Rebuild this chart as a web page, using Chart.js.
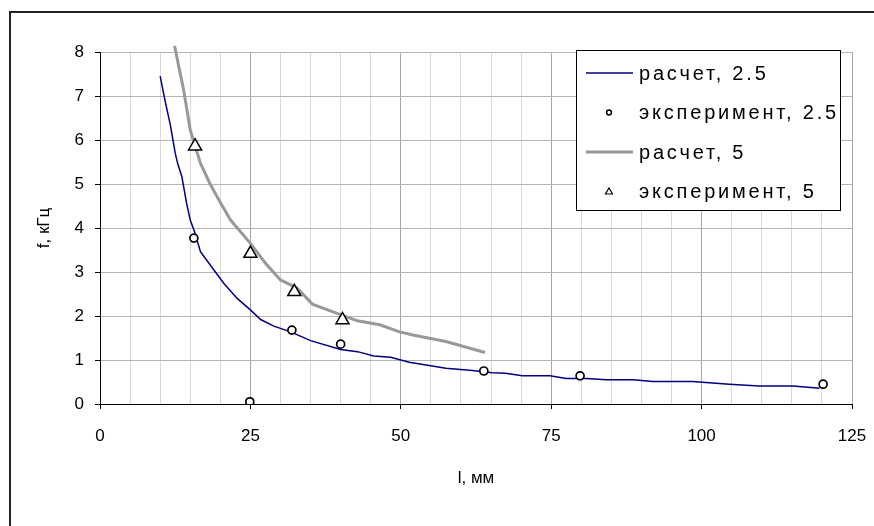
<!DOCTYPE html>
<html>
<head>
<meta charset="utf-8">
<script src="https://cdn.jsdelivr.net/npm/chart.js@4.4.0/dist/chart.umd.min.js"></script>
<style>
  html, body { margin: 0; padding: 0; background: #fff; }
  #wrap { width: 874px; height: 526px; }
</style>
</head>
<body>
<div id="wrap"><canvas id="chart" width="874" height="526"></canvas></div>
<script>
// l, mm / f, kHz
const calcL25 = [10, 10.8, 11.7, 12.5, 12.9, 13.6, 14.4, 15, 15.7, 16.7, 18.9, 20.6, 22.8, 25, 26.7, 28.9, 31.7, 35, 40, 42.8, 45.5, 48.3, 51.4, 57.5, 61.9, 65.2, 67.4, 70.2, 74.8, 77.5, 80.8, 84.1, 88.6, 91.9, 98.5, 104.6, 109.6, 115.2, 119.6];
const calcF25 = [7.45, 6.9, 6.34, 5.7, 5.47, 5.17, 4.56, 4.18, 3.92, 3.46, 3.05, 2.74, 2.4, 2.14, 1.92, 1.77, 1.64, 1.44, 1.24, 1.19, 1.09, 1.06, 0.95, 0.81, 0.76, 0.71, 0.7, 0.64, 0.64, 0.58, 0.58, 0.55, 0.55, 0.51, 0.51, 0.45, 0.41, 0.41, 0.36];
const expL25 = [15.6, 24.9, 31.9, 40, 63.8, 79.8, 120.2];
const expF25 = [3.77, 0.05, 1.68, 1.36, 0.75, 0.64, 0.45];

const calcL5 = [12.4, 13.2, 13.9, 15, 16.7, 18.3, 20, 21.7, 25, 27.5, 30, 32.8, 35.3, 39.4, 42.8, 46.5, 49.8, 52, 57.5, 64];
const calcF5 = [8.14, 7.6, 7.14, 6.23, 5.47, 5.0, 4.58, 4.18, 3.65, 3.2, 2.82, 2.63, 2.27, 2.06, 1.89, 1.8, 1.64, 1.57, 1.42, 1.17];
const expL5 = [15.8, 25, 32.3, 40.3];
const expF5 = [5.86, 3.42, 2.55, 1.91];

const seriesNames = ['расчет, 2.5', 'эксперимент, 2.5', 'расчет, 5', 'эксперимент, 5'];
const xTitle = 'l, мм';
const yTitle = 'f, кГц';

const FONT = '"Liberation Sans", Arial, sans-serif';

function toPoints(xs, ys) {
    return xs.map((x, i) => ({ x, y: ys[i] }));
}

// legend box drawn inside the plot, over the grid, like the original
const legendBox = {
    id: 'legendBox',
    afterDraw(chart) {
        const ctx = chart.ctx;
        ctx.save();

        // outer frame (only left/top are inside the picture)
        ctx.strokeStyle = '#222';
        ctx.lineWidth = 2;
        ctx.beginPath();
        ctx.moveTo(10, 526);
        ctx.lineTo(10, 12);
        ctx.lineTo(874, 12);
        ctx.stroke();

        const bx = 576, by = 50, bw = 264, bh = 160;
        ctx.fillStyle = '#fff';
        ctx.fillRect(bx, by, bw, bh);

        ctx.font = '20px ' + FONT;
        ctx.letterSpacing = '2.8px';
        ctx.textBaseline = 'middle';
        ctx.fillStyle = '#000';

        chart.data.datasets.forEach((ds, i) => {
            const y = 73 + i * 39.5;
            if (ds.showLine !== false) {
                ctx.strokeStyle = ds.borderColor;
                ctx.lineWidth = ds.borderWidth;
                ctx.beginPath();
                ctx.moveTo(586, y);
                ctx.lineTo(633, y);
                ctx.stroke();
            } else if (ds.pointStyle === 'triangle') {
                ctx.strokeStyle = '#000';
                ctx.lineWidth = 1.2;
                ctx.beginPath();
                ctx.moveTo(609, y - 3.5);
                ctx.lineTo(612.5, y + 2.5);
                ctx.lineTo(605.5, y + 2.5);
                ctx.closePath();
                ctx.stroke();
            } else {
                ctx.strokeStyle = '#000';
                ctx.lineWidth = 1.5;
                ctx.beginPath();
                ctx.arc(609, y, 2.4, 0, Math.PI * 2);
                ctx.stroke();
            }
            ctx.fillText(ds.label, 639, y + 1);
        });

        ctx.letterSpacing = '0px';
        ctx.strokeStyle = '#000';
        ctx.lineWidth = 1;
        ctx.strokeRect(bx + 0.5, by + 0.5, bw, bh);
        ctx.restore();
    }
};

const ctx = document.getElementById('chart').getContext('2d');
new Chart(ctx, {
    type: 'scatter',
    data: {
        datasets: [{
            label: seriesNames[0],
            data: toPoints(calcL25, calcF25),
            showLine: true,
            borderColor: '#000080',
            borderWidth: 1.5,
            pointRadius: 0,
            tension: 0,
            order: 3
        }, {
            label: seriesNames[1],
            data: toPoints(expL25, expF25),
            showLine: false,
            pointStyle: 'circle',
            pointRadius: 4,
            pointBackgroundColor: '#fff',
            pointBorderColor: '#000',
            pointBorderWidth: 1.7,
            order: 1
        }, {
            label: seriesNames[2],
            data: toPoints(calcL5, calcF5),
            showLine: true,
            borderColor: '#999999',
            borderWidth: 3,
            pointRadius: 0,
            tension: 0,
            clip: false,
            order: 2
        }, {
            label: seriesNames[3],
            data: toPoints(expL5, expF5),
            showLine: false,
            pointStyle: 'triangle',
            pointRadius: 7.5,
            pointBackgroundColor: '#fff',
            pointBorderColor: '#000',
            pointBorderWidth: 1.5,
            order: 0
        }]
    },
    options: {
        responsive: false,
        animation: false,
        devicePixelRatio: 1,
        layout: { padding: { top: 52, right: 22, left: 0, bottom: 0 } },
        plugins: {
            legend: { display: false },
            tooltip: { enabled: false }
        },
        scales: {
            x: {
                type: 'linear',
                min: 0,
                max: 125,
                afterFit: s => {
                    s.height = 122;
                    s.paddingLeft = 0;
                    s.paddingRight = 0;
                },
                ticks: {
                    stepSize: 5,
                    autoSkip: false,
                    maxRotation: 0,
                    padding: 17,
                    color: '#000',
                    font: { family: FONT, size: 17 },
                    callback: v => (v % 25 === 0 ? v : '')
                },
                grid: {
                    color: c => (c.tick && c.tick.value % 25 === 0 ? '#a6a6a6' : '#d9d9d9'),
                    tickColor: c => (c.tick && c.tick.value % 25 === 0 ? '#000' : 'rgba(0,0,0,0)'),
                    tickLength: 5
                },
                border: { color: '#000', width: 1 },
                title: {
                    display: true,
                    text: xTitle,
                    color: '#000',
                    font: { family: FONT, size: 17 },
                    padding: { top: 0, bottom: 37 }
                }
            },
            y: {
                min: 0,
                max: 8,
                afterFit: s => { s.width = 100; },
                ticks: {
                    stepSize: 1,
                    padding: 11,
                    color: '#000',
                    font: { family: FONT, size: 17 }
                },
                grid: {
                    color: '#b3b3b3',
                    tickColor: '#000',
                    tickLength: 5
                },
                border: { color: '#000', width: 1 },
                title: {
                    display: true,
                    text: yTitle,
                    color: '#000',
                    font: { family: FONT, size: 17 },
                    padding: { top: 34, bottom: 0 }
                }
            }
        }
    },
    plugins: [legendBox]
});
</script>
</body>
</html>
